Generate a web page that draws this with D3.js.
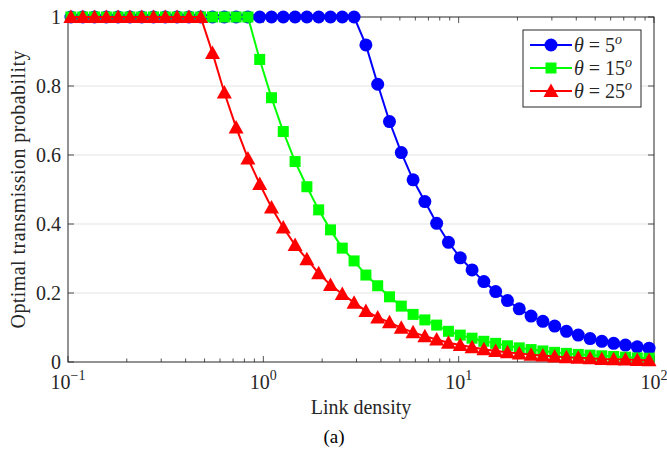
<!DOCTYPE html>
<html>
<head>
<meta charset="utf-8">
<script src="https://cdn.jsdelivr.net/npm/d3@7"></script>
<style>
  html, body { margin: 0; padding: 0; background: #fff; }
  svg { display: block; }
  text { font-family: "Liberation Serif", "Times New Roman", serif; fill: #262626; }
</style>
</head>
<body>
<svg id="chart" width="667" height="456"></svg>
<script>
// Link density sample points (x)
const density = [0.1035, 0.1190, 0.1367, 0.1571, 0.1805, 0.2075, 0.2384, 0.2740, 0.3149, 0.3618,
  0.4159, 0.4779, 0.5492, 0.6313, 0.7254, 0.8337, 0.9581, 1.101, 1.265, 1.454,
  1.671, 1.920, 2.207, 2.536, 2.915, 3.350, 3.850, 4.424, 5.084, 5.843,
  6.714, 7.716, 8.867, 10.19, 11.71, 13.46, 15.47, 17.78, 20.43, 23.48,
  26.98, 31.01, 35.63, 40.95, 47.06, 54.08, 62.15, 71.42, 82.07, 94.32];

const theta5 = [1,1,1,1,1,1,1,1,1,1, 1,1,1,1,1,1,1,1,1,1, 1,1,1,1,1,
  0.919,0.805,0.697,0.607,0.528,0.465,0.402,0.347,0.302,0.267,0.233,0.204,0.178,0.154,0.133,
  0.118,0.104,0.089,0.078,0.068,0.060,0.054,0.049,0.044,0.040];

const theta15 = [1,1,1,1,1,1,1,1,1,1, 1,1,1,1,1,1,
  0.877,0.766,0.668,0.581,0.508,0.441,0.383,0.330,0.293,0.252,0.221,0.189,0.162,0.138,0.122,
  0.107,0.089,0.078,0.069,0.060,0.054,0.047,0.041,0.036,0.032,0.028,0.025,0.022,0.020,0.018,
  0.016,0.014,0.012,0.011];

const theta25 = [1,1,1,1,1,1,1,1,1,1, 1,1,
  0.896,0.781,0.680,0.590,0.516,0.448,0.390,0.339,0.298,0.257,0.223,0.197,0.172,0.148,0.129,
  0.115,0.099,0.086,0.075,0.065,0.056,0.049,0.043,0.037,0.032,0.028,0.025,0.021,0.019,0.016,
  0.014,0.012,0.011,0.009,0.008,0.007,0.006,0.005];

const seriesNames = ["5", "15", "25"];
const seriesColors = ["#0000ff", "#00ff00", "#ff0000"];
const seriesMarkers = ["circle", "square", "triangle"];
const seriesValues = [theta5, theta15, theta25];

const xTickExp = ["\u22121", "0", "1", "2"];
const xTickVals = [0.1, 1, 10, 100];
const yTickVals = [0, 0.2, 0.4, 0.6, 0.8, 1];
const yTickLabels = ["0", "0.2", "0.4", "0.6", "0.8", "1"];

const svg = d3.select("#chart");
const L = 68, R = 654, T = 17, B = 362;
const axisColor = "#262626";

const x = d3.scaleLog().domain([0.1, 100]).range([L, R]);
const y = d3.scaleLinear().domain([0, 1]).range([B, T]);

// grid
svg.append("g").selectAll("line").data(yTickVals.filter(v => v > 0 && v < 1)).join("line")
  .attr("x1", L).attr("x2", R).attr("y1", d => y(d)).attr("y2", d => y(d))
  .attr("stroke", "#e3e3e3").attr("stroke-width", 1);

// minor/major x ticks
const minorTicks = [];
for (let e = -1; e < 2; e++) for (let m = 1; m < 10; m++) minorTicks.push(m * Math.pow(10, e));
minorTicks.push(100);
const tickG = svg.append("g").attr("stroke", axisColor).attr("stroke-width", 0.8);
minorTicks.forEach(v => {
  const major = xTickVals.includes(v);
  const len = major ? 6 : 3.5;
  tickG.append("line").attr("x1", x(v)).attr("x2", x(v)).attr("y1", B).attr("y2", B - len);
  tickG.append("line").attr("x1", x(v)).attr("x2", x(v)).attr("y1", T).attr("y2", T + len);
});
yTickVals.forEach(v => {
  tickG.append("line").attr("x1", L).attr("x2", L + 6).attr("y1", y(v)).attr("y2", y(v));
  tickG.append("line").attr("x1", R).attr("x2", R - 6).attr("y1", y(v)).attr("y2", y(v));
});

// box
svg.append("rect").attr("x", L).attr("y", T).attr("width", R - L).attr("height", B - T)
  .attr("fill", "none").attr("stroke", axisColor).attr("stroke-width", 1);

// tick labels
svg.append("g").selectAll("text").data(yTickVals).join("text")
  .attr("x", L - 7).attr("y", d => y(d) + 6.5).attr("text-anchor", "end")
  .attr("font-size", 20).text((d, i) => yTickLabels[i]);

const xl = svg.append("g").selectAll("text").data(xTickVals).join("text")
  .attr("x", d => x(d)).attr("y", 389).attr("text-anchor", "middle").attr("font-size", 20);
xl.append("tspan").text("10");
xl.append("tspan").attr("dy", -9).attr("font-size", 14).text((d, i) => xTickExp[i]);

// axis labels
svg.append("text").attr("x", (L + R) / 2).attr("y", 414).attr("text-anchor", "middle")
  .attr("font-size", 20).text("Link density");
svg.append("text").attr("transform", `translate(25,${(T + B) / 2}) rotate(-90)`)
  .attr("text-anchor", "middle").attr("font-size", 20)
  .attr("textLength", 278).attr("lengthAdjust", "spacing")
  .text("Optimal transmission probability");
svg.append("text").attr("x", 334).attr("y", 443).attr("text-anchor", "middle")
  .attr("font-size", 19).style("fill", "#000").text("(a)");

// markers
function drawMarker(g, type, color) {
  if (type === "circle") g.append("circle").attr("r", 6.5).attr("fill", color);
  else if (type === "square") g.append("rect").attr("x", -5.5).attr("y", -5.5).attr("width", 11).attr("height", 11).attr("fill", color);
  else g.append("path").attr("d", "M0,-7.5L7.5,6L-7.5,6Z").attr("fill", color);
}

const line = d3.line().x(d => x(d[0])).y(d => y(d[1]));
seriesValues.forEach((vals, si) => {
  const pts = density.map((d, i) => [d, vals[i]]);
  const g = svg.append("g");
  g.append("path").datum(pts).attr("d", line).attr("fill", "none")
    .attr("stroke", seriesColors[si]).attr("stroke-width", 2);
  pts.forEach(p => {
    const mg = g.append("g").attr("transform", `translate(${x(p[0])},${y(p[1])})`);
    drawMarker(mg, seriesMarkers[si], seriesColors[si]);
  });
});

// legend
const lg = svg.append("g");
lg.append("rect").attr("x", 523).attr("y", 30).attr("width", 118).attr("height", 77)
  .attr("fill", "#fff").attr("stroke", axisColor).attr("stroke-width", 1);
seriesNames.forEach((n, i) => {
  const cy = 45 + i * 23;
  lg.append("line").attr("x1", 530).attr("x2", 572).attr("y1", cy).attr("y2", cy)
    .attr("stroke", seriesColors[i]).attr("stroke-width", 2);
  const mg = lg.append("g").attr("transform", `translate(551,${cy})`);
  drawMarker(mg, seriesMarkers[i], seriesColors[i]);
  const t = lg.append("text").attr("x", 574).attr("y", cy + 7).attr("font-size", 20);
  t.append("tspan").attr("font-style", "italic").text("\u03b8");
  t.append("tspan").text(" = " + n);
  t.append("tspan").attr("dy", -8).attr("font-size", 14).attr("font-style", "italic").text("o");
});
</script>
</body>
</html>
